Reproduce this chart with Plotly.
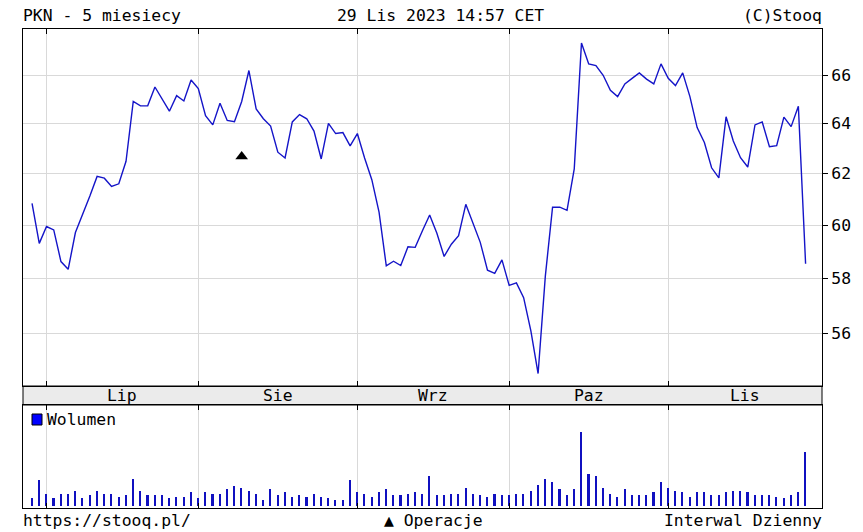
import numpy as np
import pandas as pd
import plotly.graph_objects as go

# ---------------- data ----------------
title_left = "PKN - 5 miesiecy"
title_mid = "29 Lis 2023 14:57 CET"
title_right = "(C)Stooq"
footer_left = "https://stooq.pl/"
footer_mid = "▲ Operacje"
footer_right = "Interwal Dzienny"
volume_label = "Wolumen"

holidays = ["2023-08-15", "2023-11-01"]
sessions = pd.bdate_range("2023-06-29", "2023-11-29")
sessions = sessions[~sessions.isin(pd.to_datetime(holidays))]

close = [60.84, 59.31, 59.95, 59.82, 58.63, 58.34, 59.72, 60.38, 61.12, 61.89,
         61.82, 61.50, 61.60, 62.49, 64.91, 64.73, 64.73, 65.51, 65.00, 64.51,
         65.15, 64.93, 65.80, 65.44, 64.33, 63.95, 64.84, 64.13, 64.08, 64.91,
         66.20, 64.60, 64.20, 63.90, 62.85, 62.62, 64.07, 64.37, 64.20, 63.70,
         62.58, 64.01, 63.60, 63.64, 63.10, 63.60, 62.62, 61.76, 60.50, 58.47,
         58.64, 58.48, 59.18, 59.16, 59.79, 60.39, 59.69, 58.82, 59.28, 59.60,
         60.80, 60.10, 59.35, 58.31, 58.19, 58.69, 57.75, 57.84, 57.30, 56.10,
         54.60, 58.09, 60.69, 60.69, 60.57, 62.19, 67.37, 66.48, 66.41, 66.00,
         65.37, 65.11, 65.64, 65.87, 66.10, 65.84, 65.64, 66.48, 65.87, 65.57,
         66.10, 65.11, 63.84, 63.24, 62.23, 61.83, 64.28, 63.30, 62.63, 62.26,
         63.95, 64.07, 63.07, 63.11, 64.27, 63.88, 64.71, 58.55]

volume_mln = [1.27, 4.29, 1.98, 1.27, 1.98, 1.98, 2.48, 1.27, 1.76, 2.48,
              1.93, 1.98, 1.49, 1.76, 4.46, 2.48, 1.76, 1.76, 1.76, 1.27,
              1.49, 1.49, 2.26, 1.27, 2.26, 1.98, 1.98, 2.75, 3.25, 3.03,
              2.48, 1.98, 0.99, 2.75, 1.76, 2.26, 1.49, 1.76, 1.49, 1.98,
              1.49, 1.27, 0.99, 0.99, 4.29, 2.26, 1.98, 1.49, 2.26, 2.75,
              1.76, 1.76, 1.98, 2.26, 1.98, 4.95, 1.76, 1.76, 1.98, 1.98,
              3.03, 1.98, 1.76, 1.49, 1.98, 1.76, 1.76, 1.98, 1.98, 2.48,
              3.47, 4.46, 3.96, 2.75, 1.76, 2.75, 12.16, 5.23, 4.95, 2.97,
              1.98, 1.49, 2.75, 1.76, 1.76, 1.76, 2.26, 3.96, 2.97, 2.48,
              2.26, 1.49, 2.26, 2.26, 1.76, 1.76, 2.26, 2.48, 2.48, 2.26,
              1.76, 1.76, 1.76, 1.49, 1.27, 1.76, 2.26, 8.97]

month_labels = ["Lip", "Sie", "Wrz", "Paz", "Lis"]
y_ticks = [56, 58, 60, 62, 64, 66]
op_dates = ["2023-08-09"]
op_levels = [62.68]

# ---------------- geometry / style ----------------
W, H = 863, 532
L, R, T, B = 23, 41, 29, 24
FONT = "DejaVu Sans Mono"
FS = 16.4
LINE_BLUE = "#1414c8"
GRID = "#d9d9d9"


def py(ypx):
    return (H - B - ypx) / (H - T - B)


def pxx(xpx):
    return (xpx - L) / (W - L - R)


x = np.arange(len(sessions))
months = sessions.month
bounds = [i for i in range(1, len(sessions)) if months[i] != months[i - 1]]
x_range = [-1.25, 109.27]
edges = bounds + [x_range[1]]
label_pos = [(edges[k] + edges[k + 1]) / 2 for k in range(len(bounds))]

op_x = [sessions.get_loc(pd.Timestamp(d)) for d in op_dates]

fig = go.Figure()
fig.add_trace(go.Scatter(x=x, y=close, mode="lines",
                         line=dict(color=LINE_BLUE, width=1.4),
                         xaxis="x", yaxis="y", hoverinfo="skip"))
fig.add_trace(go.Scatter(x=op_x, y=op_levels, mode="markers",
                         marker=dict(symbol="triangle-up", size=11, color="black"),
                         xaxis="x", yaxis="y", hoverinfo="skip"))
fig.add_trace(go.Bar(x=x, y=volume_mln, width=0.22,
                     marker=dict(color="#1010c0", line=dict(width=0)),
                     xaxis="x2", yaxis="y2", hoverinfo="skip"))

axis_common = dict(showline=True, linecolor="black", linewidth=1, zeroline=False)

fig.update_layout(
    width=W, height=H,
    margin=dict(l=L, r=R, t=T, b=B, pad=0),
    paper_bgcolor="white", plot_bgcolor="white",
    showlegend=False,
    font=dict(family=FONT, size=FS, color="black"),
    xaxis=dict(domain=[0, 1], anchor="y", range=x_range, tickvals=bounds,
               showticklabels=False, showgrid=True, gridcolor=GRID, gridwidth=1,
               ticks="inside", ticklen=5, tickcolor="black", mirror="ticks",
               **axis_common),
    yaxis=dict(domain=[py(386), 1], anchor="x", type="log",
               range=[np.log10(54.17), np.log10(67.97)],
               tickvals=y_ticks, ticktext=[str(v) for v in y_ticks],
               side="right", ticks="outside", ticklen=5, tickcolor="black",
               showgrid=True, gridcolor=GRID, gridwidth=1, mirror=True,
               tickfont=dict(family=FONT, size=FS, color="black"),
               **axis_common),
    xaxis2=dict(domain=[0, 1], anchor="y2", range=x_range, matches="x",
                tickvals=bounds, showticklabels=False, showgrid=True,
                gridcolor=GRID, gridwidth=1, ticks="inside", ticklen=5,
                tickcolor="black", mirror="ticks", **axis_common),
    yaxis2=dict(domain=[0, py(405)], anchor="x2", range=[-0.33, 16.67],
                showticklabels=False, showgrid=False, ticks="", mirror=True,
                **axis_common),
    bargap=0,
)

# band between panels with month names
fig.add_shape(type="rect", xref="paper", yref="paper", x0=0, x1=1,
              y0=py(405), y1=py(386), fillcolor="#ebebeb",
              line=dict(color="black", width=1), layer="below")
for lab, pos in zip(month_labels, label_pos):
    fig.add_annotation(x=pos, xref="x", y=py(395), yref="paper", text=lab,
                       showarrow=False, xanchor="center", yanchor="middle",
                       font=dict(family=FONT, size=FS, color="black"))

# volume legend square
fig.add_shape(type="rect", xref="paper", yref="paper",
              x0=pxx(32), x1=pxx(42), y0=py(425), y1=py(414),
              fillcolor="#0000ff", line=dict(color="black", width=1))
fig.add_annotation(x=pxx(45), xref="paper", y=py(419.5), yref="paper",
                   text=volume_label, showarrow=False, xanchor="left",
                   yanchor="middle", font=dict(family=FONT, size=FS, color="black"))

# header
hy = py(16)
fig.add_annotation(x=pxx(21), xref="paper", y=hy, yref="paper", text=title_left,
                   showarrow=False, xanchor="left", yanchor="middle")
fig.add_annotation(x=pxx(440), xref="paper", y=hy, yref="paper", text=title_mid,
                   showarrow=False, xanchor="center", yanchor="middle")
fig.add_annotation(x=pxx(824), xref="paper", y=hy, yref="paper", text=title_right,
                   showarrow=False, xanchor="right", yanchor="middle")
# footer
fy = py(520)
fig.add_annotation(x=pxx(21), xref="paper", y=fy, yref="paper", text=footer_left,
                   showarrow=False, xanchor="left", yanchor="middle")
fig.add_annotation(x=pxx(433), xref="paper", y=fy, yref="paper", text=footer_mid,
                   showarrow=False, xanchor="center", yanchor="middle")
fig.add_annotation(x=pxx(824), xref="paper", y=fy, yref="paper", text=footer_right,
                   showarrow=False, xanchor="right", yanchor="middle")

fig.write_html("out.html",
               config={"displayModeBar": False},
               post_script="document.body.style.margin='0';"
                           "document.body.style.overflow='hidden';")
